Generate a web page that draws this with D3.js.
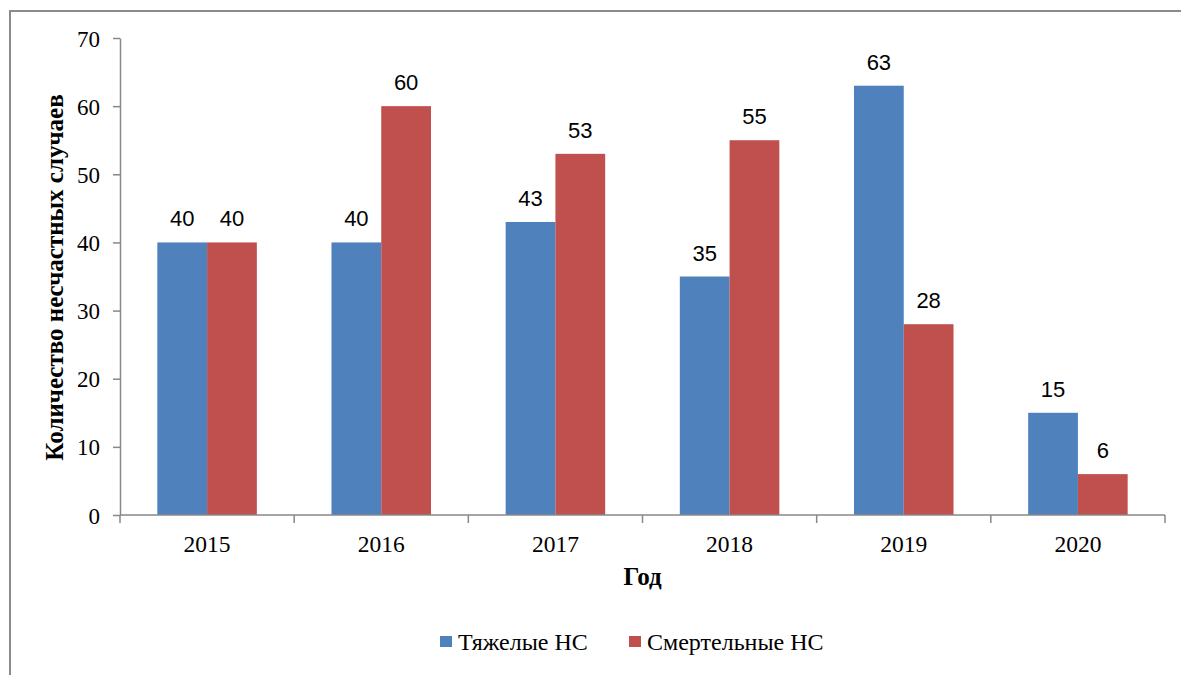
<!DOCTYPE html>
<html><head><meta charset="utf-8">
<script src="https://cdn.jsdelivr.net/npm/d3@7"></script>
<style>body{margin:0;background:#fff}svg{display:block}</style>
</head><body>
<svg id="c" width="1181" height="675"></svg>
<script>
const categories = ["2015","2016","2017","2018","2019","2020"];
const seriesNames = ["Тяжелые НС","Смертельные НС"];
const heavy = [40,40,43,35,63,15];
const fatal = [40,60,53,55,28,6];
const yTicks = [0,10,20,30,40,50,60,70];
const colors = ["#4F81BD","#C0504D"];
const SERIF = "'Liberation Serif','Times New Roman',serif";
const SANS = "'Liberation Sans',Arial,sans-serif";

const svg = d3.select("#c");
svg.append("path").attr("d","M10,676 L10,11 L1182,11").attr("fill","none").attr("stroke","#8a8a8a").attr("stroke-width",2);

const x0 = 120, x1 = 1165, yb = 515, yt = 38;
const x = d3.scaleBand().domain(categories).range([x0,x1]).paddingInner(0).paddingOuter(0);
const y = d3.scaleLinear().domain([0,70]).range([yb,yt]);
const inner = d3.scaleBand().domain([0,1]).range([0,x.bandwidth()]).paddingInner(0).paddingOuter(0.75);

const series = [heavy, fatal];
const g = svg.append("g");
series.forEach((vals,si)=>{
  g.selectAll(null).data(vals).enter().append("rect")
    .attr("x",(d,i)=>x(categories[i])+inner(si))
    .attr("y",d=>y(d))
    .attr("width",inner.bandwidth())
    .attr("height",d=>yb-y(d))
    .attr("fill",colors[si]);
  g.selectAll(null).data(vals).enter().append("text")
    .attr("x",(d,i)=>x(categories[i])+inner(si)+inner.bandwidth()/2)
    .attr("y",d=>y(d)-16)
    .attr("text-anchor","middle")
    .style("font-family",SANS).style("font-size","22px").attr("fill","#000")
    .text(d=>d);
});

const ya = svg.append("g").attr("transform",`translate(${x0},0)`)
  .call(d3.axisLeft(y).tickValues(yTicks).tickSize(7).tickPadding(13).tickSizeOuter(0));
ya.select(".domain").attr("stroke","#888").attr("stroke-width",1.5);
ya.selectAll(".tick line").attr("stroke","#888").attr("stroke-width",1.5);
ya.selectAll(".tick text").style("font-family",SERIF).style("font-size","23px").attr("fill","#000").attr("dy","0.35em");

const xa = svg.append("g").attr("transform",`translate(0,${yb})`);
xa.append("line").attr("x1",x0).attr("x2",x1).attr("y1",0).attr("y2",0).attr("stroke","#888").attr("stroke-width",1.5);
const bounds = categories.map(c=>x(c)).concat([x1]);
xa.selectAll(null).data(bounds).enter().append("line")
  .attr("x1",d=>d).attr("x2",d=>d).attr("y1",0).attr("y2",8).attr("stroke","#888").attr("stroke-width",1.5);
xa.selectAll(null).data(categories).enter().append("text")
  .attr("x",d=>x(d)+x.bandwidth()/2).attr("y",37)
  .attr("text-anchor","middle").style("font-family",SERIF).style("font-size","23.5px").attr("fill","#000").text(d=>d);

svg.append("text").attr("transform",`translate(63,${(yb+yt)/2+1}) rotate(-90)`)
  .attr("text-anchor","middle").style("font-family",SERIF).style("font-size","25px").style("font-weight","bold").text("Количество несчастных случаев");
svg.append("text").attr("x",(x0+x1)/2).attr("y",585).attr("text-anchor","middle")
  .style("font-family",SERIF).style("font-size","25px").style("font-weight","bold").text("Год");

const leg = svg.append("g");
const legX = [440, 629];
seriesNames.forEach((n,i)=>{
  leg.append("rect").attr("x",legX[i]).attr("y",636).attr("width",12).attr("height",11).attr("fill",colors[i]);
  leg.append("text").attr("x",legX[i]+18).attr("y",650).style("font-family",SERIF).style("font-size","24px").attr("fill","#000").text(n);
});
</script>
</body></html>
